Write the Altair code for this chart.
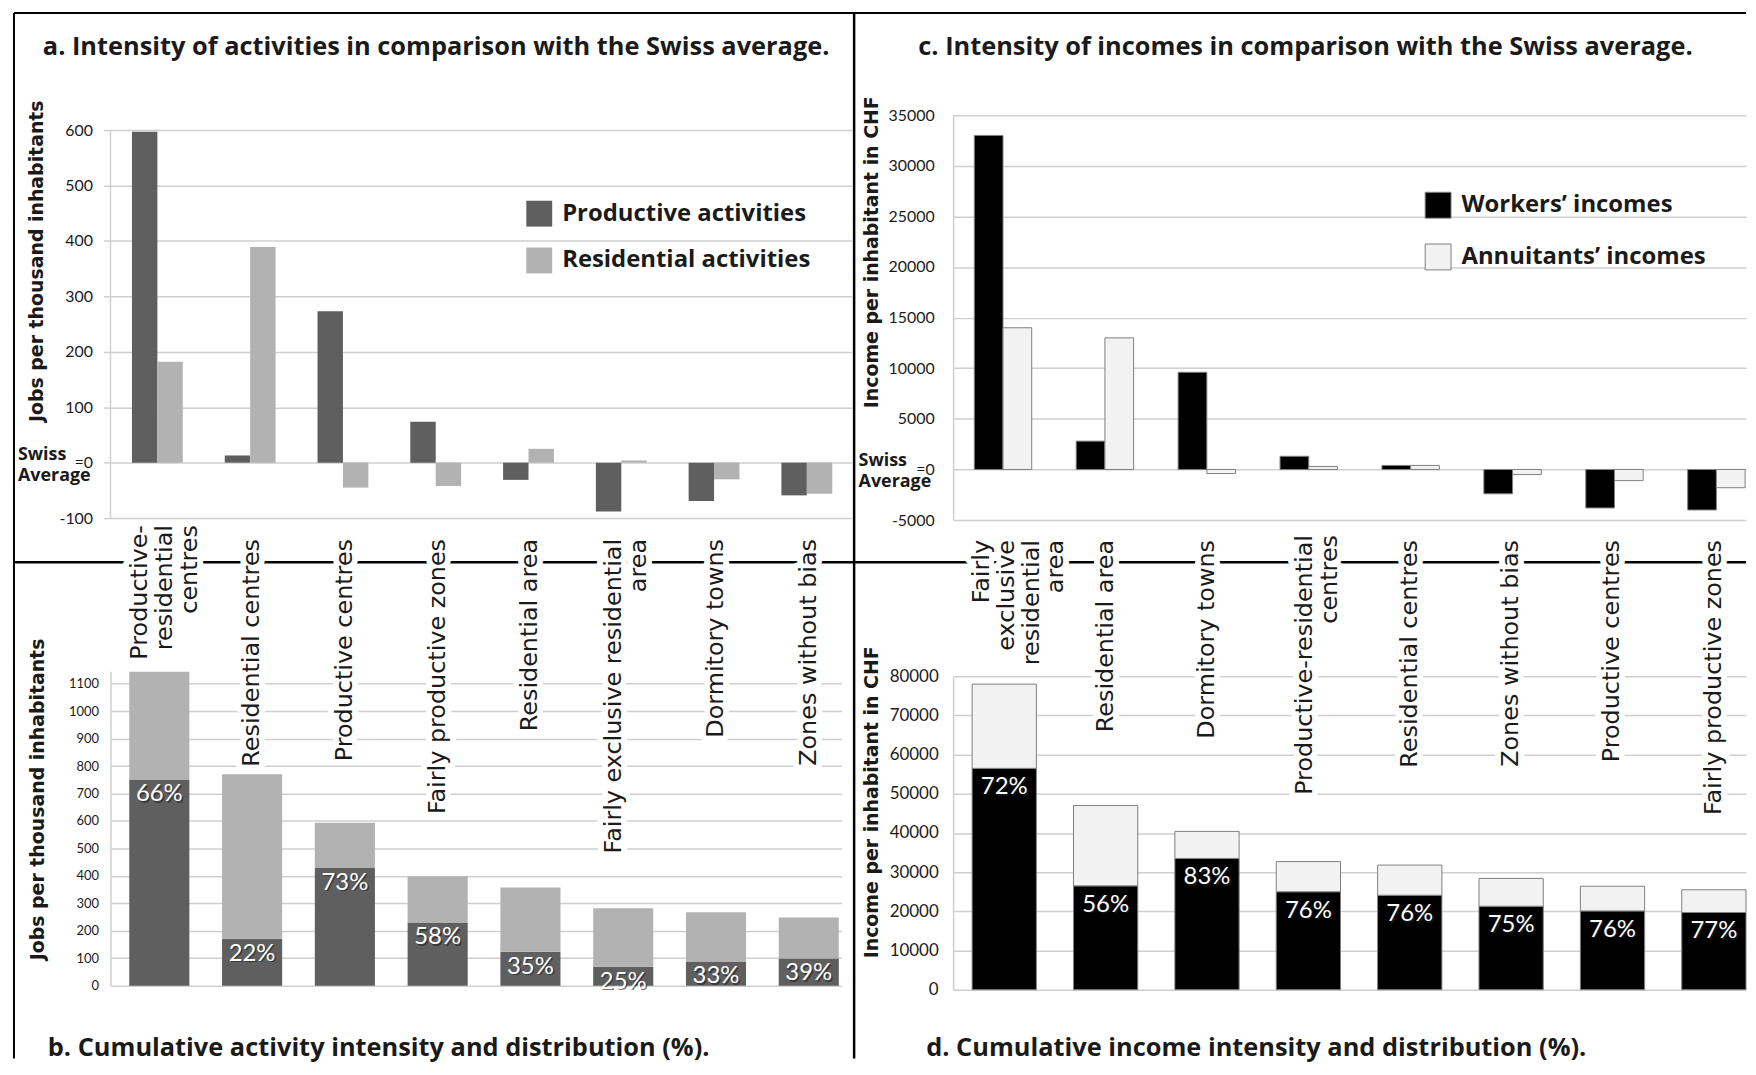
import altair as alt
import pandas as pd

# ---------------- data ----------------
ZONES_A = ["Productive-residential centres", "Residential centres", "Productive centres",
           "Fairly productive zones", "Residential area", "Fairly exclusive residential area",
           "Dormitory towns", "Zones without bias"]
LABELS_A = ["Productive-\nresidential\ncentres", "Residential centres", "Productive centres",
            "Fairly productive zones", "Residential area", "Fairly exclusive residential\narea",
            "Dormitory towns", "Zones without  bias"]
SER_A = ["Productive activities", "Residential activities"]
PROD_A = [597, 13, 273, 74, -31, -88, -69, -59]
RES_A = [182, 389, -45, -42, 25, 4, -30, -56]

PROD_B = [751, 171, 430, 230, 124, 69, 88, 99]
RES_B = [392, 599, 163, 169, 234, 213, 179, 149]
PCT_B = ["66%", "22%", "73%", "58%", "35%", "25%", "33%", "39%"]

ZONES_C = ["Fairly exclusive residential area", "Residential area", "Dormitory towns",
           "Productive-residential centres", "Residential centres", "Zones without bias",
           "Productive centres", "Fairly productive zones"]
LABELS_C = ["Fairly\nexclusive\nresidential\narea", "Residential area", "Dormitory towns",
            "Productive-residential\ncentres", "Residential centres", "Zones without  bias",
            "Productive centres", "Fairly productive zones"]
SER_C = ["Workers\u2019 incomes", "Annuitants\u2019 incomes"]
WORK_C = [33000, 2800, 9600, 1300, 400, -2400, -3800, -4000]
ANN_C = [14000, 13000, -400, 300, 400, -500, -1100, -1800]

WORK_D = [56500, 26500, 33500, 25000, 24100, 21300, 20100, 19700]
ANN_D = [21500, 20500, 6900, 7700, 7700, 7100, 6300, 5800]
PCT_D = ["72%", "56%", "83%", "76%", "76%", "75%", "76%", "77%"]

TITLE_A = "a. Intensity of activities in comparison with the Swiss average."
TITLE_B = "b. Cumulative activity intensity and distribution (%)."
TITLE_C = "c. Intensity of incomes in comparison with the Swiss average."
TITLE_D = "d. Cumulative income intensity and distribution (%)."
YT_A = "Jobs per thousand inhabitants"
YT_C = "Income per inhabitant in CHF"

# ---------------- styles / geometry ----------------
DARK, LIGHT, BLACK, PALE = "#5f5f5f", "#b2b2b2", "#000000", "#f2f2f2"
GRID, INK, EDGE = "#cfcfcf", "#1a1a1a", "#7f7f7f"
NUMF = "Lato"
HEADF = "Open Sans"
TXTF = "DejaVu Sans"
LH = 25

A_W, A_H = 745, 405
B_W, B_H = 735, 316
C_W, C_H = 797, 407
D_W, D_H = 797, 315


def band(width, r0, step, bw, n=8):
    pi = 1 - bw / step
    span = step * (n - pi)
    left = width - span
    return alt.Scale(paddingInner=pi, paddingOuter=left / step / 2,
                     align=min(1.0, max(0.0, r0 / left)))


one = pd.DataFrame({"k": [0]})


def rule(x=None, x2=None, y=None, y2=None, w=2.5):
    enc = {}
    if x is not None:
        enc["x"] = alt.value(x)
    if x2 is not None:
        enc["x2"] = alt.value(x2)
    if y is not None:
        enc["y"] = alt.value(y)
    if y2 is not None:
        enc["y2"] = alt.value(y2)
    return alt.Chart(one).mark_rule(color="#000000", strokeWidth=w).encode(**enc)


def label_text(txt, x, y, size=25.5):
    return alt.Chart(one).mark_text(text=txt, align="left", baseline="alphabetic", font=HEADF,
                                    fontSize=size, fontWeight="bold", color=INK).encode(
        x=alt.value(x), y=alt.value(y))


def yaxis(vals, title, tx, ty, pad, fs, domain=True, ticksize=0, swiss_zero=False):
    kw = dict(values=vals, grid=True, gridColor=GRID, gridWidth=1.5, domain=domain,
              domainColor=GRID, domainWidth=1.5, labelPadding=pad, labelFont=NUMF,
              labelFontSize=fs, labelColor=INK,
              labelExpr=("datum.value == 0 ? '=0' : '' + datum.value") if swiss_zero
              else "'' + datum.value",
              title=title, titleFont=TXTF, titleFontSize=19, titleFontWeight="bold",
              titleColor=INK, titleAngle=270, titleX=tx, titleY=ty, titleAlign="center",
              titleBaseline="middle")
    if ticksize > 0:
        kw.update(ticks=True, tickSize=ticksize, tickColor=GRID, tickWidth=1.5)
    else:
        kw.update(ticks=False)
    return alt.Axis(**kw)


def swiss(x):
    s = alt.Chart(one).mark_text(text="Swiss", align="left", baseline="middle", dy=-8,
                                 font=HEADF, fontSize=18, fontWeight="bold", color=INK).encode(
        x=alt.value(x), y=alt.datum(0))
    a = alt.Chart(one).mark_text(text="Average", align="left", baseline="middle", dy=13,
                                 font=HEADF, fontSize=18, fontWeight="bold", color=INK).encode(
        x=alt.value(x), y=alt.datum(0))
    return [s, a]


def cat_labels(zones, labels, xenc, y, lift, shift):
    df = pd.DataFrame({"zone": zones, "lab": labels,
                       "n": [lab.count("\n") + 1 for lab in labels]})
    layers = []
    for n in sorted(set(df["n"])):
        base = dict(angle=270, align="right", baseline="middle", font=TXTF, fontSize=24,
                    lineBreak="\n", lineHeight=LH,
                    dy=-(n - 1) * LH / 2 + 3 * (n - 1) + shift.get(n, 0),
                    dx=lift.get(n, 0))
        src = alt.Chart(df).transform_filter(alt.datum.n == n)
        layers.append(src.mark_text(color="white", stroke="white", strokeWidth=12,
                                    strokeJoin="round", **base).encode(
            x=xenc, y=alt.value(y), text="lab:N"))
        layers.append(src.mark_text(color=INK, **base).encode(
            x=xenc, y=alt.value(y), text="lab:N"))
    return layers


def pct_labels(zones, tops, pcts, xenc, yenc_kw, dy):
    df = pd.DataFrame({"zone": zones, "top": tops, "pct": pcts})
    base = dict(align="center", baseline="middle", font=NUMF, fontSize=24)
    sh = alt.Chart(df).mark_text(color="#202020", opacity=0.6, dx=1.5, dy=dy + 1.5, **base).encode(
        x=xenc, y=alt.Y("top:Q", **yenc_kw), text="pct:N")
    tx = alt.Chart(df).mark_text(color="white", dy=dy, **base).encode(
        x=xenc, y=alt.Y("top:Q", **yenc_kw), text="pct:N")
    return [sh, tx]


def legend(lx, ly, stroke):
    return alt.Legend(orient="none", legendX=lx, legendY=ly, title=None, symbolType="square",
                      symbolSize=676, symbolStrokeColor=EDGE, symbolStrokeWidth=stroke,
                      labelFont=HEADF, labelFontSize=24, labelFontWeight="bold", labelColor=INK,
                      rowPadding=21, labelOffset=10, padding=0, labelLimit=400)


# ---------------- panel a ----------------
df_a = pd.DataFrame({"zone": ZONES_A * 2, "series_a": [SER_A[0]] * 8 + [SER_A[1]] * 8,
                     "val": PROD_A + RES_A})
xa = alt.X("zone:N", sort=ZONES_A, axis=None, scale=band(A_W, 21.6, 93.26, 51.1))
ya_s = alt.Scale(domain=[-100, 627], nice=False, zero=False)
bars_a = alt.Chart(df_a).mark_bar().encode(
    x=xa,
    xOffset=alt.XOffset("series_a:N", sort=SER_A, scale=alt.Scale(paddingInner=0, paddingOuter=0)),
    y=alt.Y("val:Q", stack=None, scale=ya_s,
            axis=yaxis(list(range(-100, 601, 100)), YT_A, -74, 146.3, 11, 16, domain=False,
                       ticksize=7, swiss_zero=True)),
    color=alt.Color("series_a:N", scale=alt.Scale(domain=SER_A, range=[DARK, LIGHT]),
                    legend=legend(418, 86, 0)),
)
adomain = alt.Chart(one).mark_rule(color=GRID, strokeWidth=1.5).encode(
    x=alt.value(0), y=alt.datum(-100), y2=alt.datum(600))
frame = [
    rule(x=-97, y=-102.7, y2=948.3, w=2),          # left frame
    rule(x=-97, x2=1644, y=-102.7, w=2),            # top frame
    rule(x=747.5, y=-102.7, y2=948.3, w=2.5),       # vertical divider
    rule(x=-97, x2=1644, y=449.3, w=2.5),           # horizontal divider
]
panel_a = alt.layer(*frame, bars_a, adomain, *swiss(-93),
                    label_text(TITLE_A, -68, -60.7)).properties(width=A_W, height=A_H)

# ---------------- panel b ----------------
df_b = pd.DataFrame({"zone": ZONES_A * 2, "series_b": ["p"] * 8 + ["r"] * 8,
                     "val": PROD_B + RES_B, "ord": [0] * 8 + [1] * 8})
xb = alt.X("zone:N", sort=ZONES_A, axis=None, scale=band(B_W, 18.9, 93.26, 60.4))
yb_kw = dict(scale=alt.Scale(domain=[0, 1145], nice=False),
             axis=yaxis(list(range(0, 1101, 100)), YT_A, -73, 128.3, 12, 13))
bars_b = alt.Chart(df_b).mark_bar().encode(
    x=xb,
    y=alt.Y("val:Q", stack="zero", **yb_kw),
    color=alt.Color("series_b:N", scale=alt.Scale(domain=["p", "r"], range=[DARK, LIGHT]), legend=None),
    order=alt.Order("ord:Q"),
)
panel_b = alt.layer(bars_b, *pct_labels(ZONES_A, PROD_B, PCT_B, xb, yb_kw, 15),
                    *cat_labels(ZONES_A, LABELS_A, xb, -133, {3: 14}, {}),
                    label_text(TITLE_B, -63, 387)).properties(width=B_W, height=B_H)

# ---------------- panel c ----------------
df_c = pd.DataFrame({"zone": ZONES_C * 2, "series_c": [SER_C[0]] * 8 + [SER_C[1]] * 8,
                     "val": WORK_C + ANN_C})
xc = alt.X("zone:N", sort=ZONES_C, axis=None, scale=band(C_W, 21.3, 102.44, 57.7))
yc_s = alt.Scale(domain=[-5000, 35000], nice=False, zero=False)
bars_c = alt.Chart(df_c).mark_bar(stroke=EDGE, strokeWidth=1).encode(
    x=xc,
    xOffset=alt.XOffset("series_c:N", sort=SER_C, scale=alt.Scale(paddingInner=0, paddingOuter=0)),
    y=alt.Y("val:Q", stack=None, scale=yc_s,
            axis=yaxis(list(range(-5000, 35001, 5000)), YT_C, -82, 137.3, 19, 16,
                       swiss_zero=True)),
    color=alt.Color("series_c:N", scale=alt.Scale(domain=SER_C, range=[BLACK, PALE]),
                    legend=legend(474, 77, 1)),
)
panel_c = alt.layer(bars_c, *swiss(-95),
                    label_text(TITLE_C, -35, -60.7)).properties(width=C_W, height=C_H)

# ---------------- panel d ----------------
df_d = pd.DataFrame({"zone": ZONES_C * 2, "series_d": ["w"] * 8 + ["a"] * 8,
                     "val": WORK_D + ANN_D, "ord": [0] * 8 + [1] * 8})
xd = alt.X("zone:N", sort=ZONES_C, axis=None, scale=band(D_W, 20.1, 101.9, 64.6))
yd_kw = dict(scale=alt.Scale(domain=[0, 80000], nice=False),
             axis=yaxis(list(range(0, 80001, 10000)), YT_C, -82, 126.2, 15, 17))
bars_d = alt.Chart(df_d).mark_bar(stroke=EDGE, strokeWidth=1).encode(
    x=xd,
    y=alt.Y("val:Q", stack="zero", **yd_kw),
    color=alt.Color("series_d:N", scale=alt.Scale(domain=["w", "a"], range=[BLACK, PALE]), legend=None),
    order=alt.Order("ord:Q"),
)
panel_d = alt.layer(bars_d, *pct_labels(ZONES_C, WORK_D, PCT_D, xd, yd_kw, 19),
                    *cat_labels(ZONES_C, LABELS_C, xd, -137, {2: 5}, {2: 6, 4: 6}),
                    label_text(TITLE_D, -27, 382)).properties(width=D_W, height=D_H)

# ---------------- layout ----------------
# with flush bounds a nested column counts as zero width, so the spacing is the full offset
left = alt.vconcat(panel_a, panel_b, spacing=154, bounds="flush").resolve_scale(
    color="independent", xOffset="independent")
right = alt.vconcat(panel_c, panel_d, spacing=157, bounds="flush").resolve_scale(
    color="independent", xOffset="independent")
chart = alt.hconcat(left, right, spacing=847, bounds="flush").resolve_scale(
    color="independent", xOffset="independent").properties(
    padding={"left": 4, "top": 0, "right": 0, "bottom": 0},
    background="white",
).configure_view(stroke="transparent")

chart.save("out.html", embed_options={"renderer": "svg", "actions": False})
